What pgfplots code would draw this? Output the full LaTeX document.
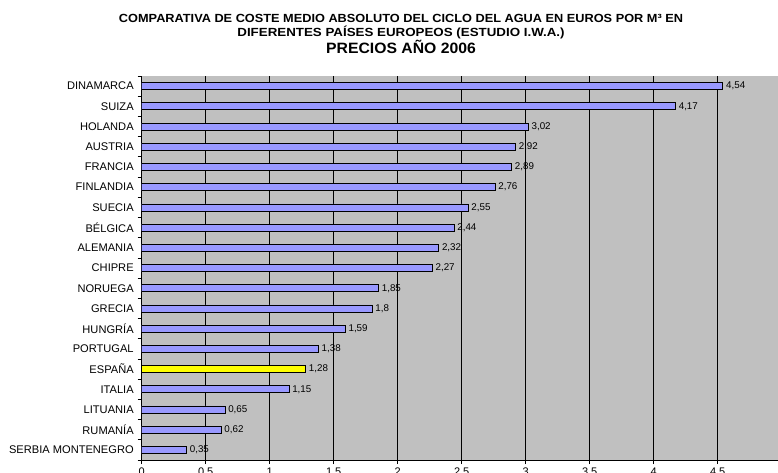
\documentclass[border=0pt]{standalone}
\usepackage{pgfplots}
\pgfplotsset{compat=1.18}
\usepackage{fontspec}
\setmainfont{Liberation Sans}

\definecolor{plotgray}{HTML}{C0C0C0}
\definecolor{barblue}{HTML}{9999FF}
\definecolor{baryellow}{HTML}{FFFF00}

\begin{document}
\begin{tikzpicture}
% titulo
\node[anchor=base, font=\bfseries\fontsize{11.8}{12}\selectfont] at (401pt,449.3pt)
  {\scalebox{1.08}[1]{COMPARATIVA DE COSTE MEDIO ABSOLUTO DEL CICLO DEL AGUA EN EUROS POR M³ EN}};
\node[anchor=base, font=\bfseries\fontsize{11.8}{12}\selectfont] at (401pt,435pt)
  {\scalebox{1.13}[1]{DIFERENTES PAÍSES EUROPEOS (ESTUDIO I.W.A.)}};
\node[anchor=base, font=\bfseries\fontsize{15}{16}\selectfont] at (401pt,418.7pt)
  {\scalebox{1.05}[1]{PRECIOS AÑO 2006}};

\begin{axis}[
    at={(141.7pt,12pt)}, anchor=south west,
    scale only axis,
    width=640pt, height=384pt,
    xbar, bar width=7pt, bar shift=0pt,
    xmin=0, xmax=5,
    ymin=-0.5, ymax=18.5,
    y dir=reverse,
    axis background/.style={fill=plotgray},
    axis x line*=bottom, axis y line*=left,
    axis line style={-, black, line width=0.8pt},
    xtick={0,0.5,...,5},
    xmajorgrids,
    grid style={black, line width=0.7pt},
    tick align=outside,
    major tick length=4pt,
    minor tick length=4pt,
    tick style={black, line width=0.7pt},
    ytick={0,...,18},
    minor ytick={-0.5,0.5,...,18.5},
    major y tick style={draw=none},
    yticklabels={DINAMARCA,SUIZA,HOLANDA,AUSTRIA,FRANCIA,FINLANDIA,SUECIA,
      BÉLGICA,ALEMANIA,CHIPRE,NORUEGA,GRECIA,HUNGRÍA,PORTUGAL,ESPAÑA,ITALIA,
      LITUANIA,RUMANÍA,SERBIA MONTENEGRO},
    yticklabel style={font=\fontsize{11.1}{12}\selectfont, xshift=-0.5pt},
    xticklabel style={font=\fontsize{11}{12}\selectfont},
    /pgf/number format/use comma,
    /pgf/number format/assume math mode=true,
    nodes near coords,
    nodes near coords style={anchor=west, font=\fontsize{9.8}{10}\selectfont,
      /pgf/number format/use comma, inner sep=2pt, xshift=1pt},
    every axis plot/.append style={draw=black, line width=0.7pt},
  ]
\addplot[fill=barblue] coordinates {
  (4.54,0) (4.17,1) (3.02,2) (2.92,3) (2.89,4) (2.76,5) (2.55,6)
  (2.44,7) (2.32,8) (2.27,9) (1.85,10) (1.8,11) (1.59,12) (1.38,13)
  (1.15,15) (0.65,16) (0.62,17) (0.35,18)};
\addplot[fill=baryellow] coordinates {(1.28,14)};
\end{axis}

\pgfresetboundingbox
\path[use as bounding box] (0,0) rectangle (778pt,472pt);
\end{tikzpicture}
\end{document}
